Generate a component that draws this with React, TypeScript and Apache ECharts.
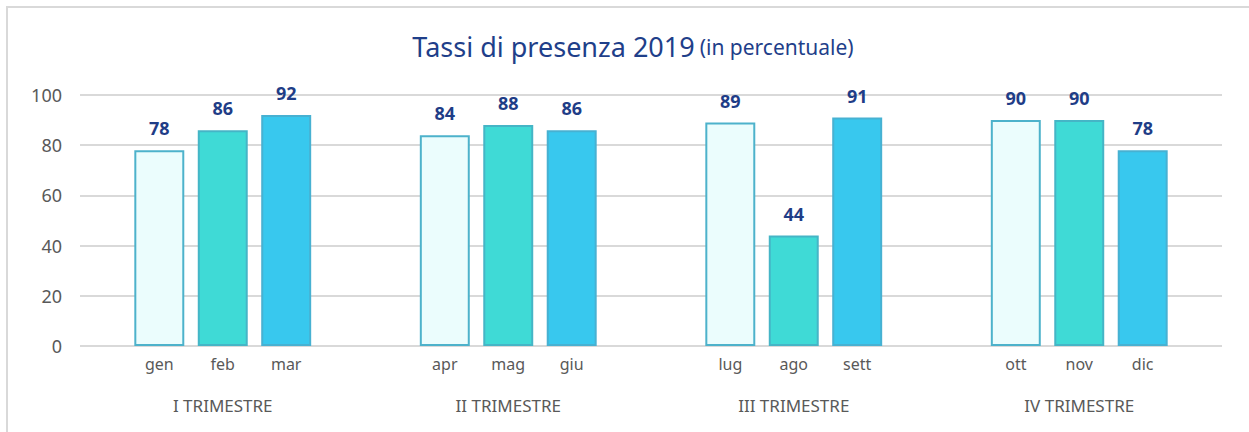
import React, { useEffect, useRef } from "react";
import * as echarts from "echarts";

const quarters = ["I TRIMESTRE", "II TRIMESTRE", "III TRIMESTRE", "IV TRIMESTRE"];
const months = [
  ["gen", "feb", "mar"],
  ["apr", "mag", "giu"],
  ["lug", "ago", "sett"],
  ["ott", "nov", "dic"],
];
// values for the 1st, 2nd and 3rd month of each quarter
const firstMonth = [78, 84, 89, 90];
const secondMonth = [86, 88, 44, 90];
const thirdMonth = [92, 86, 91, 78];
const yTicks = { min: 0, max: 100, interval: 20 };

const FONT = "'Noto Sans', 'Open Sans', sans-serif";

export default function App() {
  const ref = useRef<HTMLDivElement>(null);
  useEffect(() => {
    if (!ref.current) return;
    const chart = echarts.init(ref.current, undefined, { renderer: "svg" });
    const monthSlots: string[] = [];
    months.forEach((g) => {
      monthSlots.push("", "", g[0], "", g[1], "", g[2], "", "");
    });
    const valueLabel = {
      show: true,
      position: "top" as const,
      distance: 13,
      color: "#1F3D87",
      fontWeight: "bold" as const,
      fontSize: 18,
      fontFamily: FONT,
    };
    const mk = (name: string, data: number[], fill: string, border: string) => ({
      name,
      type: "bar",
      xAxisIndex: 0,
      data,
      barWidth: "17.5%",
      barGap: "27%",
      itemStyle: { color: fill, borderColor: border, borderWidth: 2 },
      label: valueLabel,
    });
    chart.setOption({
      animation: false,
      backgroundColor: "#ffffff",
      title: {
        text: "{a|Tassi di presenza 2019} {b|(in percentuale)}",
        left: 628,
        textAlign: "center",
        top: 28,
        textStyle: {
          fontWeight: "normal",
          rich: {
            a: { fontSize: 27, color: "#1F3F8A", fontFamily: FONT, fontWeight: "normal" },
            b: { fontSize: 21, color: "#1F3F8A", fontFamily: FONT, fontWeight: "normal" },
          },
        },
      },
      graphic: [
        {
          type: "rect",
          shape: { x: 7, y: 7, width: 1300, height: 500 },
          style: { fill: "none", stroke: "#D9D9D9", lineWidth: 2 },
          silent: true,
        },
      ],
      grid: { left: 80, right: 27, top: 95, bottom: 86, containLabel: false },
      xAxis: [
        {
          type: "category",
          data: quarters,
          position: "bottom",
          axisLine: { show: false },
          axisTick: { show: false },
          axisLabel: {
            margin: 51,
            fontSize: 17,
            color: "#595959",
            fontFamily: FONT,
          },
        },
        {
          type: "category",
          data: monthSlots,
          position: "bottom",
          axisLine: { show: false },
          axisTick: { show: false },
          axisLabel: {
            interval: 0,
            margin: 10,
            fontSize: 16,
            color: "#595959",
            fontFamily: FONT,
          },
        },
      ],
      yAxis: {
        type: "value",
        min: yTicks.min,
        max: yTicks.max,
        interval: yTicks.interval,
        axisLine: { show: false },
        axisTick: { show: false },
        axisLabel: { fontSize: 18, color: "#595959", margin: 18, fontFamily: FONT },
        splitLine: { lineStyle: { color: "#D9D9D9", width: 2 } },
      },
      series: [
        mk("1° mese", firstMonth, "#EBFDFD", "#4DB2CB"),
        mk("2° mese", secondMonth, "#3FDAD6", "#45B5C6"),
        mk("3° mese", thirdMonth, "#38C8EE", "#47B1D2"),
      ],
    });
    return () => chart.dispose();
  }, []);
  return (
    <div
      ref={ref}
      style={{ position: "fixed", left: 0, top: 0, width: 1249, height: 432 }}
    />
  );
}
